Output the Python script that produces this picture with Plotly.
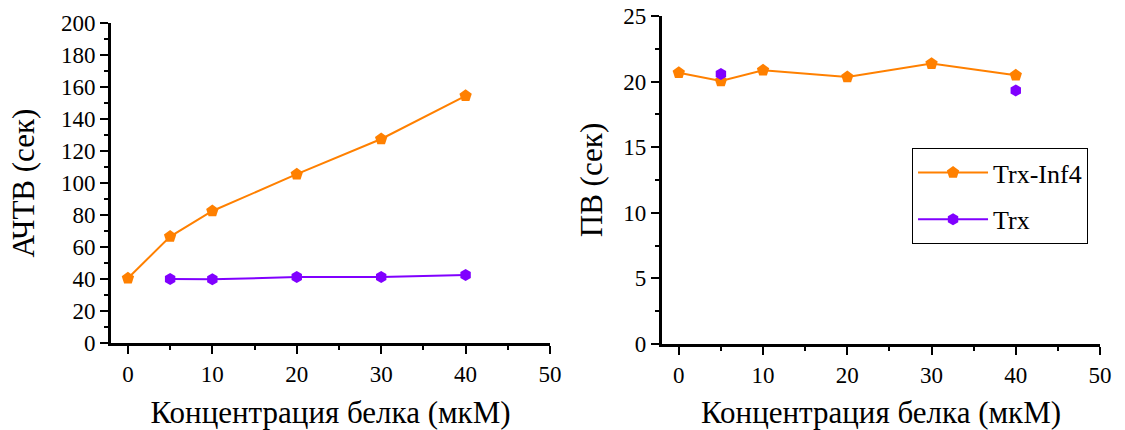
import plotly.graph_objects as go

# Data
conc_inf4 = [0, 5, 10, 20, 30, 40]
aptt_inf4 = [40.5, 66.5, 82.5, 105.5, 127.5, 154.5]
conc_trx = [5, 10, 20, 30, 40]
aptt_trx = [40.0, 39.8, 41.2, 41.2, 42.5]
pt_inf4 = [20.68, 20.05, 20.86, 20.35, 21.37, 20.48]
pt_trx = [20.58, None, None, None, 19.33]

name_inf4 = "Trx-Inf4"
name_trx = "Trx"
x_title = "Концентрация белка (мкМ)"
y_title_left = "АЧТВ (сек)"
y_title_right = "ПВ (сек)"

ORANGE = "#FF8000"
PURPLE = "#8000FF"
FONT = "Times New Roman"

fig = go.Figure()

fig.add_trace(go.Scatter(x=conc_inf4, y=aptt_inf4, name=name_inf4, mode="lines+markers",
                         line=dict(color=ORANGE, width=2),
                         marker=dict(symbol="pentagon", size=13, color=ORANGE),
                         legendgroup="a", xaxis="x", yaxis="y"))
fig.add_trace(go.Scatter(x=conc_trx, y=aptt_trx, name=name_trx, mode="lines+markers",
                         line=dict(color=PURPLE, width=2),
                         marker=dict(symbol="hexagon", size=12, color=PURPLE),
                         legendgroup="b", xaxis="x", yaxis="y"))
fig.add_trace(go.Scatter(x=conc_inf4, y=pt_inf4, name=name_inf4, mode="lines+markers",
                         line=dict(color=ORANGE, width=2),
                         marker=dict(symbol="pentagon", size=13, color=ORANGE),
                         showlegend=False, xaxis="x2", yaxis="y2"))
fig.add_trace(go.Scatter(x=conc_trx, y=pt_trx, name=name_trx, mode="lines+markers",
                         connectgaps=False,
                         line=dict(color=PURPLE, width=2),
                         marker=dict(symbol="hexagon", size=12, color=PURPLE),
                         showlegend=False, xaxis="x2", yaxis="y2"))

common_x = dict(range=[-2, 50], tick0=0, dtick=10, showline=True, linecolor="black", linewidth=3,
                ticks="outside", ticklen=8, tickwidth=2, tickcolor="black",
                minor=dict(ticks="outside", dtick=5, tick0=0, ticklen=4, tickwidth=2, tickcolor="black"),
                showgrid=False, zeroline=False, mirror=False,
                tickfont=dict(family=FONT, size=23),
                title=dict(text=x_title, font=dict(family=FONT, size=31), standoff=18))
common_y = dict(showline=True, linecolor="black", linewidth=3,
                ticks="outside", ticklen=8, tickwidth=2, tickcolor="black",
                showgrid=False, zeroline=False, mirror=False,
                tickfont=dict(family=FONT, size=23))

fig.update_layout(
    template="none",
    width=1125, height=430,
    margin=dict(l=0, r=0, t=0, b=0),
    plot_bgcolor="white", paper_bgcolor="white",
    font=dict(family=FONT, color="black"),
    xaxis=dict(domain=[0.0987, 0.4889], anchor="y", **common_x),
    yaxis=dict(domain=[0.2023, 0.9465], anchor="x", range=[0, 200], dtick=20,
               minor=dict(ticks="outside", dtick=10, ticklen=4, tickwidth=2, tickcolor="black"),
               title=dict(text=y_title_left, font=dict(family=FONT, size=31), standoff=18),
               **common_y),
    xaxis2=dict(domain=[0.5884, 0.9778], anchor="y2", **common_x),
    yaxis2=dict(domain=[0.2, 0.9628], anchor="x2", range=[0, 25], dtick=5,
                minor=dict(ticks="outside", dtick=2.5, ticklen=4, tickwidth=2, tickcolor="black"),
                title=dict(text=y_title_right, font=dict(family=FONT, size=31), standoff=12),
                **common_y),
    legend=dict(x=0.8107, y=0.6558, xanchor="left", yanchor="top",
                bordercolor="black", borderwidth=1, bgcolor="white",
                font=dict(family=FONT, size=26),
                traceorder="grouped", tracegroupgap=10, itemwidth=70,
                entrywidth=170, entrywidthmode="pixels"),
    showlegend=True,
)

fig.write_html("out.html")
